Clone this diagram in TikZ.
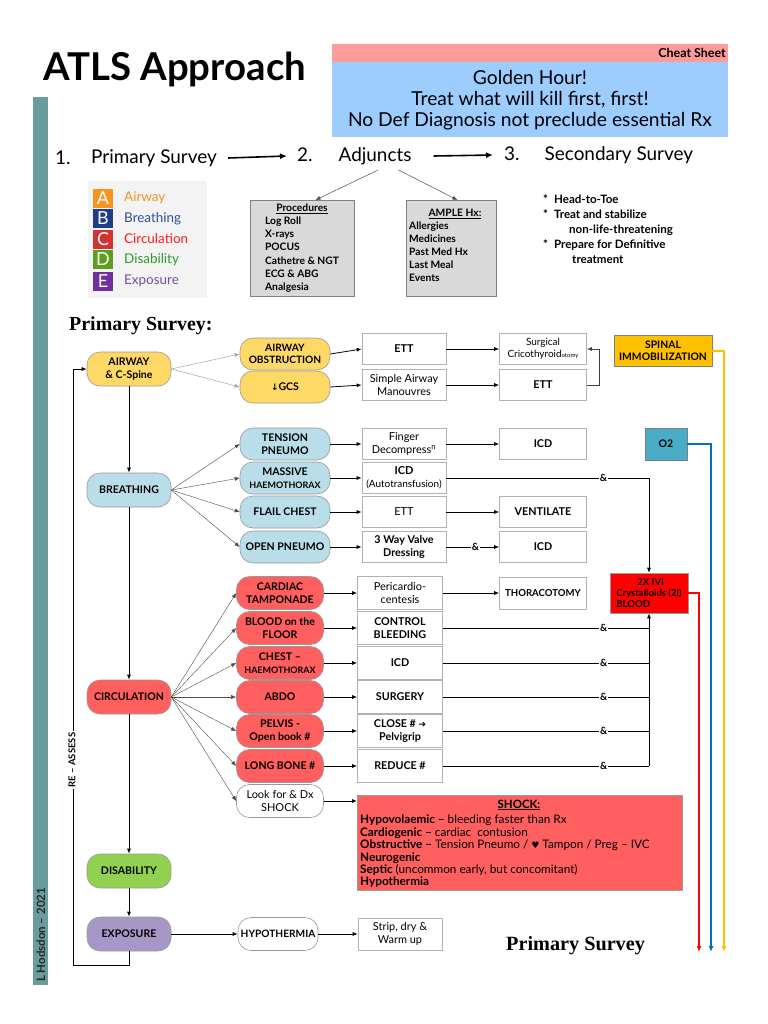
\documentclass[tikz,border=0pt]{standalone}
\usepackage{fontspec}
\setmainfont{Lato}
\newfontfamily\symf{DejaVu Sans}
\newfontfamily\serifb{Liberation Serif}
\usetikzlibrary{arrows.meta,calc}
\definecolor{teal1}{HTML}{689D9C}
\definecolor{pinkh}{HTML}{FF9B9B}
\definecolor{blueh}{HTML}{9DCCFF}
\definecolor{yel}{HTML}{FFD966}
\definecolor{lblue}{HTML}{B9DEE9}
\definecolor{redp}{HTML}{FF5F5F}
\definecolor{grn}{HTML}{92D050}
\definecolor{purp}{HTML}{A797C6}
\definecolor{spinc}{HTML}{FFC000}
\definecolor{o2c}{HTML}{4BACC6}
\definecolor{ivic}{HTML}{FF0000}
\definecolor{bline}{HTML}{0070C0}
\definecolor{yline}{HTML}{FFC000}
\definecolor{procg}{HTML}{D9D9D9}
\definecolor{legbg}{HTML}{F3F3F3}
\definecolor{cA}{HTML}{F7931E}
\definecolor{cB}{HTML}{1F3C88}
\definecolor{cC}{HTML}{D23232}
\definecolor{cD}{HTML}{5E9E1E}
\definecolor{cE}{HTML}{7030A0}
\definecolor{tB}{HTML}{2F4F9F}
\definecolor{tC}{HTML}{FF1A1A}
\definecolor{tD}{HTML}{2E9A2E}
\definecolor{tE}{HTML}{7A4FA0}
\begin{document}
\begin{tikzpicture}[x=1bp,y=-1bp,
  pill/.style={draw=gray!80, line width=0.6bp, rounded corners=13bp, minimum width=90bp, minimum height=32bp, align=center, inner sep=1bp, font=\fontsize{10.6}{12.5}\selectfont\bfseries},
  mainpill/.style={pill, minimum width=84bp, minimum height=34bp},
  cpill/.style={pill, fill=redp, minimum width=87bp, minimum height=33bp},
  bpill/.style={pill, fill=lblue},
  bx/.style={draw=gray!60, line width=0.6bp, fill=white, minimum width=84bp, minimum height=31bp, align=center, inner sep=1bp, font=\fontsize{11}{13}\selectfont},
  bbx/.style={bx, font=\fontsize{10.8}{13}\selectfont\bfseries},
  bx3/.style={bbx, minimum width=87bp},
  cbx/.style={bx, minimum width=85bp, minimum height=33bp},
  cbbx/.style={bbx, minimum width=85bp, minimum height=33bp},
  arr/.style={-{Latex[length=5bp,width=4bp]}, line width=0.8bp},
  fan/.style={-{Latex[length=5bp,width=4bp]}, line width=0.4bp, draw=black!70},
  gfan/.style={-{Latex[length=5bp,width=4bp]}, line width=0.5bp, draw=gray!70},
  amp/.style={fill=white, inner sep=1.2bp, font=\fontsize{10}{10}\selectfont\bfseries},
  bigarr/.style={-{Latex[length=7bp,width=6bp]}, line width=1.6bp},
  colarr/.style={-{Latex[length=6bp,width=5bp]}, line width=1.8bp},
  sq/.style={minimum width=20bp, minimum height=19bp, inner sep=0pt, text=white, font=\fontsize{18}{18}\selectfont},
  legt/.style={anchor=west, inner sep=0pt, font=\fontsize{13.5}{14}\selectfont},
  surv/.style={anchor=west, inner sep=0pt, font=\fontsize{19}{19}\selectfont}
]
\useasboundingbox (0,0) rectangle (768,1024);

% ---------- header ----------
\node[anchor=west, inner sep=0pt, font=\fontsize{38.5}{38}\selectfont\bfseries] (title) at (43,69) {ATLS Approach};
\node[fill=pinkh, minimum width=396bp, minimum height=18bp, inner sep=0pt, anchor=north west] (cheat) at (332,44) {};
\node[anchor=east, inner sep=0pt, font=\fontsize{12.5}{12.5}\selectfont\bfseries] (cheatt) at (726,53) {Cheat Sheet};
\node[fill=blueh, minimum width=396bp, minimum height=75bp, inner sep=0pt, anchor=north west] (gold) at (332,62) {};
\node[align=center, inner sep=0pt, font=\fontsize{19.3}{21}\selectfont] (goldt) at (530,100) {Golden Hour!\\Treat what will kill first, first!\\No Def Diagnosis not preclude essential Rx};

% ---------- side bar ----------
\node[fill=teal1, minimum width=15bp, minimum height=888bp, inner sep=0pt, anchor=north west] (bar) at (33,97) {};
\node[rotate=90, inner sep=0pt, text=black!85, font=\fontsize{11.5}{12}\selectfont\bfseries] (auth) at (41,935) {L Hodsdon -- 2021};

% ---------- survey row ----------
\node[surv] (n1) at (55,158) {1.};
\node[surv] (ps) at (91,158) {Primary Survey};
\node[surv] (adj) at (297,156) {2.\hspace{26bp}Adjuncts};
\node[surv] (sec) at (504,155) {3.\hspace{25bp}Secondary Survey};
\draw[bigarr] ([xshift=11bp]ps.east) -- ([xshift=-10bp]adj.west);
\draw[bigarr] ([xshift=22bp]adj.east) -- ([xshift=-11bp]sec.west);

% ---------- legend ----------
\node[fill=legbg, minimum width=119bp, minimum height=117bp, inner sep=0pt, anchor=north west] (leg) at (88,181) {};
\node[sq, fill=cA] (la) at (103,198) {A};
\node[sq, fill=cB] (lbq) at (103,218.5) {B};
\node[sq, fill=cC] (lc) at (103,239) {C};
\node[sq, fill=cD] (ld) at (103,259.5) {D};
\node[sq, fill=cE] (le) at (103,281) {E};
\node[legt, text=cA] (ta) at (124,198) {Airway};
\node[legt, text=tB] (tb) at (124,218.5) {Breathing};
\node[legt, text=tC] (tc) at (124,239) {Circulation};
\node[legt, text=tD] (td) at (124,259.5) {Disability};
\node[legt, text=tE] (te) at (124,281) {Exposure};

% ---------- adjunct boxes ----------
\node[draw=gray, line width=0.9bp, fill=procg, minimum width=104bp, minimum height=96bp, inner sep=0pt, anchor=north west] (proc) at (250,200) {};
\node[anchor=north, inner sep=0pt, font=\fontsize{10.3}{13.2}\selectfont\bfseries] (proct) at (302,202) {\begin{tabular}{@{}l@{}}\multicolumn{1}{@{}c@{}}{\underline{Procedures}}\\Log Roll\\X-rays\\POCUS\\Cathetre \& NGT\\ECG \& ABG\\Analgesia\end{tabular}};
\node[draw=gray, line width=0.9bp, fill=procg, minimum width=90bp, minimum height=96bp, inner sep=0pt, anchor=north west] (ample) at (406,200) {};
\node[inner sep=0pt, font=\fontsize{10.3}{13}\selectfont\bfseries] (ampleh) at (455,214) {\underline{AMPLE Hx:}};
\node[anchor=north west, align=left, inner sep=0pt, font=\fontsize{10.3}{13}\selectfont\bfseries] (amplet) at (409,222) {Allergies\\Medicines\\Past Med Hx\\Last Meal\\Events};
\draw[-{Latex[length=5bp,width=4bp]}, line width=0.5bp, draw=black!70] ([xshift=24bp,yshift=-5bp]adj.south) -- ([xshift=13bp]proc.north);
\draw[-{Latex[length=5bp,width=4bp]}, line width=0.5bp, draw=black!70] ([xshift=44bp,yshift=-5bp]adj.south) -- ([xshift=6bp]ample.north);

\node[anchor=north west, align=left, inner sep=0pt, font=\fontsize{11.6}{15}\selectfont\bfseries] (sect) at (543,195) {*\hspace{6bp}Head-to-Toe\\*\hspace{6bp}Treat and stabilize\\\hspace{26bp}non-life-threatening\\*\hspace{6bp}Prepare for Definitive\\\hspace{29bp}treatment};

% ---------- primary survey flow ----------
\node[anchor=west, inner sep=0pt, font=\serifb\fontsize{20}{20}\selectfont\bfseries] (psh) at (69,326) {Primary Survey:};

\node[mainpill, fill=yel] (air) at (129,369) {AIRWAY\\\& C-Spine};
\node[mainpill, fill=lblue] (bre) at (129,490) {BREATHING};
\node[mainpill, fill=redp] (cir) at (129,697) {CIRCULATION};
\node[mainpill, fill=grn] (dis) at (129,871) {DISABILITY};
\node[mainpill, fill=purp] (expo) at (129,934) {EXPOSURE};
\draw[arr] (air.south) -- (bre.north);
\draw[arr] (bre.south) -- (cir.north);
\draw[arr] (cir.south) -- (dis.north);
\draw[arr] (dis.south) -- (expo.north);
\coordinate (lb) at (73,965);
\draw[arr] (expo.south) |- (lb) |- (air.west);
\node[fill=white, rotate=90, inner sep=2bp, font=\fontsize{9.5}{10}\selectfont\bfseries] (reas) at (72,760) {RE -- ASSESS};

% airway
\node[pill, fill=yel, font=\fontsize{10.2}{12.5}\selectfont\bfseries] (aob) at (285,354) {AIRWAY\\OBSTRUCTION};
\node[pill, fill=yel] (gcs) at (285,387) {{\symf\fontsize{9}{9}\selectfont ↓}GCS};
\node[bbx] (ett1) at (404,349) {ETT};
\node[bx] (sam) at (404,385) {Simple Airway\\Manouvres};
\node[bx, minimum width=87bp, font=\fontsize{10}{12}\selectfont] (surg) at (543,349) {Surgical\\Cricothyroid{\fontsize{6}{6}\selectfont otomy}};
\node[bx3] (ett2) at (543,385) {ETT};
\node[draw=gray, line width=0.6bp, fill=spinc, minimum width=98bp, minimum height=31bp, align=center, inner sep=1bp, font=\fontsize{10.4}{12.5}\selectfont\bfseries] (spin) at (663,351) {SPINAL\\IMMOBILIZATION};
\draw[gfan] (air.east) -- (aob.west);
\draw[gfan] (air.east) -- (gcs.west);
\draw[arr] (aob.east) -- (ett1.west);
\draw[arr] (gcs.east) -- (sam.west);
\draw[arr] (ett1.east) -- (surg.west);
\draw[arr] (sam.east) -- (ett2.west);
\draw[arr, draw=black!75] (ett2.east) -- ++(13,0) |- (surg.east);

% breathing
\node[bpill] (tp) at (285,444) {TENSION\\PNEUMO};
\node[bpill] (mh) at (285,478) {MASSIVE\\{\fontsize{9}{10}\selectfont HAEMOTHORAX}};
\node[bpill] (fc) at (285,512) {FLAIL CHEST};
\node[bpill] (op) at (285,547) {OPEN PNEUMO};
\node[bx] (fd) at (404,444) {Finger\\Decompress\textsuperscript{n}};
\node[bx] (icda) at (404,478) {{\bfseries ICD}\\{\fontsize{10}{11}\selectfont (Autotransfusion)}};
\node[bx] (ettb) at (404,512) {ETT};
\node[bbx] (tw) at (404,547) {3 Way Valve\\Dressing};
\node[bx3] (icdb) at (543,444) {ICD};
\node[bx3] (vent) at (543,512) {VENTILATE};
\node[bx3] (icdc) at (543,547) {ICD};
\node[draw=gray, line width=0.6bp, fill=o2c, minimum width=42bp, minimum height=32bp, inner sep=1bp, font=\fontsize{10.5}{12}\selectfont\bfseries] (o2) at (666,444) {O2};
\foreach \t in {tp,mh,fc,op} \draw[fan] (bre.east) -- (\t.west);
\draw[arr] (tp.east) -- (fd.west);
\draw[arr] (mh.east) -- (icda.west);
\draw[arr] (fc.east) -- (ettb.west);
\draw[arr] (op.east) -- (tw.west);
\draw[arr] (fd.east) -- (icdb.west);
\draw[arr] (ettb.east) -- (vent.west);
\draw[arr] (tw.east) -- node[amp, pos=0.55]{\&} (icdc.west);

% circulation
\node[cpill] (ct) at (280,593) {CARDIAC\\TAMPONADE};
\node[cpill] (bf) at (280,628) {BLOOD on the\\FLOOR};
\node[cpill] (ch) at (280,663) {CHEST --\\{\fontsize{9}{10}\selectfont HAEMOTHORAX}};
\node[cpill] (ab) at (280,697) {ABDO};
\node[cpill] (pv) at (280,731) {PELVIS -\\Open book \#};
\node[cpill] (lbn) at (280,766) {LONG BONE \#};
\node[pill, fill=white, minimum width=87bp, minimum height=33bp, font=\fontsize{11}{12.5}\selectfont] (lk) at (280,801) {Look for \& Dx\\SHOCK};
\node[cbx] (pc) at (400,593) {Pericardio-\\centesis};
\node[cbbx] (cb) at (400,628) {CONTROL\\BLEEDING};
\node[cbbx] (icdd) at (400,663) {ICD};
\node[cbbx] (sg) at (400,697) {SURGERY};
\node[cbbx] (cl) at (400,731) {CLOSE \# {\symf\fontsize{9}{9}\selectfont\bfseries ➔}\\Pelvigrip};
\node[cbbx] (rd) at (400,766) {REDUCE \#};
\node[bx3, minimum height=32bp, font=\fontsize{9.6}{11}\selectfont\bfseries] (thor) at (543,593) {THORACOTOMY};
\node[draw=gray!80, line width=0.6bp, fill=ivic, minimum width=78bp, minimum height=40bp, align=left, inner sep=1bp, font=\fontsize{9.6}{11}\selectfont\bfseries] (ivi) at (649,593) {\hspace*{21bp}2X IVI\\Crystalloids (2l)\\BLOOD};
\foreach \t in {ct,bf,ch,ab,pv,lbn,lk} \draw[fan] (cir.east) -- (\t.west);
\draw[arr] (ct.east) -- (pc.west);
\draw[arr] (bf.east) -- (cb.west);
\draw[arr] (ch.east) -- (icdd.west);
\draw[arr] (ab.east) -- (sg.west);
\draw[arr] (pv.east) -- (cl.west);
\draw[arr] (lbn.east) -- (rd.west);
\draw[arr] (pc.east) -- (thor.west);
\foreach \t in {cb,icdd,sg,cl,rd} \draw[line width=0.8bp] (\t.east) -- node[amp, pos=0.78]{\&} (ivi.south |- \t.east);
\draw[arr] (ivi.south |- rd.east) -- (ivi.south);
\draw[arr, line width=0.6bp] (icda.east) -- node[amp, pos=0.775]{\&} (ivi.north |- icda.east) -- (ivi.north);

% shock box
\node[draw=gray!80, line width=0.6bp, fill=redp, minimum width=325bp, minimum height=95bp, inner sep=0pt, anchor=north west] (shock) at (357,795) {};
\node[inner sep=0pt, font=\fontsize{11.5}{12}\selectfont\bfseries] (shockh) at (519,805) {\underline{SHOCK:}};
\node[anchor=north west, align=left, inner sep=0pt, font=\fontsize{11.8}{12.4}\selectfont] (shockt) at (360,815) {\textbf{Hypovolaemic --} bleeding faster than Rx\\\textbf{Cardiogenic --} cardiac\ \ contusion\\\textbf{Obstructive --} Tension Pneumo / {\symf\fontsize{9}{9}\selectfont ♥} Tampon / Preg -- IVC\\\textbf{Neurogenic}\\\textbf{Septic} (uncommon early, but concomitant)\\\textbf{Hypothermia}};
\draw[arr] (lk.east) -- (lk.east -| shock.west);

% exposure
\node[pill, fill=white, minimum width=80bp, minimum height=33bp, font=\fontsize{10.2}{12}\selectfont\bfseries] (hyp) at (278,934) {HYPOTHERMIA};
\node[bx, minimum height=32bp] (strip) at (400,934) {Strip, dry \&\\Warm up};
\draw[arr] (expo.east) -- (hyp.west);
\draw[arr] (hyp.east) -- (strip.west);

% coloured outputs
\coordinate (rE) at (699,952);
\coordinate (bE) at (711,952);
\coordinate (yE) at (724,952);
\draw[colarr, draw=ivic] (ivi.east) -| (rE);
\draw[colarr, draw=bline] (o2.east) -| (bE);
\draw[colarr, draw=yline] (spin.east) -| (yE);

\node[anchor=west, inner sep=0pt, font=\serifb\fontsize{20.3}{20}\selectfont\bfseries] (psb) at (506,946) {Primary Survey};
\end{tikzpicture}
\end{document}
